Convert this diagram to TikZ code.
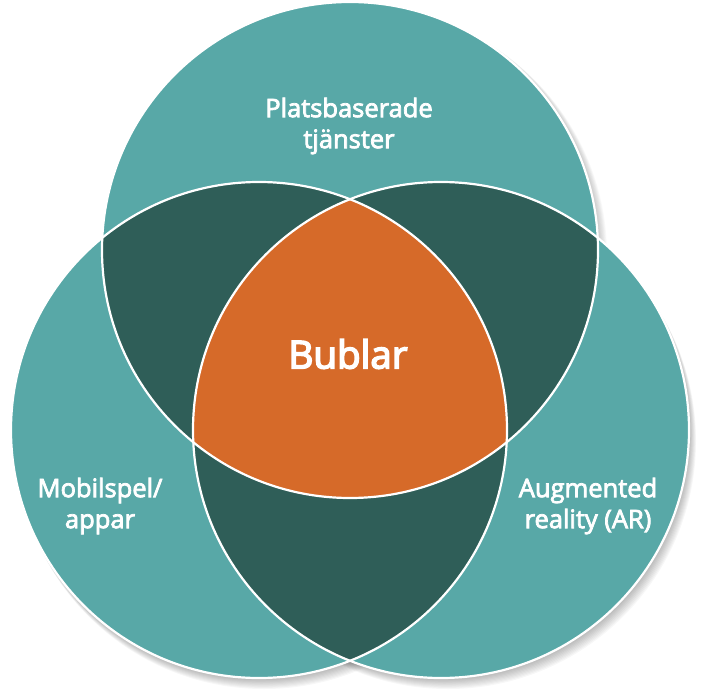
\documentclass[tikz,border=0pt]{standalone}
\usepackage{fontspec}
\setmainfont{Open Sans}
\newfontfamily\semib{Open Sans}[FakeBold=3]
\newfontfamily\semibb{Open Sans}[FakeBold=4]
\usetikzlibrary{calc}
\definecolor{tealL}{HTML}{58A8A7}
\definecolor{tealD}{HTML}{2F5E58}
\definecolor{orng}{HTML}{D66A29}
\begin{document}
\begin{tikzpicture}[x=1pt,y=-1pt,
  lbl/.style={text=white,align=center,font=\semib\fontsize{25.5}{31}\selectfont},
  ring/.style={draw=white,line width=2.2pt}]
\useasboundingbox (0,0) rectangle (728,693);
\coordinate (T) at (350,250);
\coordinate (L) at (259,430);
\coordinate (R) at (441,430);
\def\rr{248}
% soft shadow
\foreach \k in {1,...,10}{
  \fill[black,opacity=0.03] ($(L)+(\k*0.5,\k*1.1)$) circle (\rr);
  \fill[black,opacity=0.03] ($(R)+(\k*0.7,\k*1.1)$) circle (\rr);
  \fill[black,opacity=0.025] ($(T)+(\k*0.9,\k*0.5)$) circle (\rr);
}
% base circles
\fill[tealL] (T) circle (\rr);
\fill[tealL] (L) circle (\rr);
\fill[tealL] (R) circle (\rr);
% pairwise intersections
\begin{scope}\clip (T) circle (\rr); \fill[tealD] (L) circle (\rr); \end{scope}
\begin{scope}\clip (T) circle (\rr); \fill[tealD] (R) circle (\rr); \end{scope}
\begin{scope}\clip (L) circle (\rr); \fill[tealD] (R) circle (\rr); \end{scope}
% triple
\begin{scope}\clip (T) circle (\rr); \clip (L) circle (\rr); \fill[orng] (R) circle (\rr); \end{scope}
% outlines
\draw[ring] (T) circle (\rr);
\draw[ring] (L) circle (\rr);
\draw[ring] (R) circle (\rr);
% labels
\node[lbl] (top) at (349,126) {Platsbaserade\\tjänster};
\node[lbl] (left) at (100,506) {Mobilspel/\\appar};
\node[lbl] (right) at (588,506) {Augmented\\reality (AR)};
\node[text=white,font=\semibb\fontsize{38.5}{42}\selectfont] (mid) at (348,354) {Bublar};
\end{tikzpicture}
\end{document}
